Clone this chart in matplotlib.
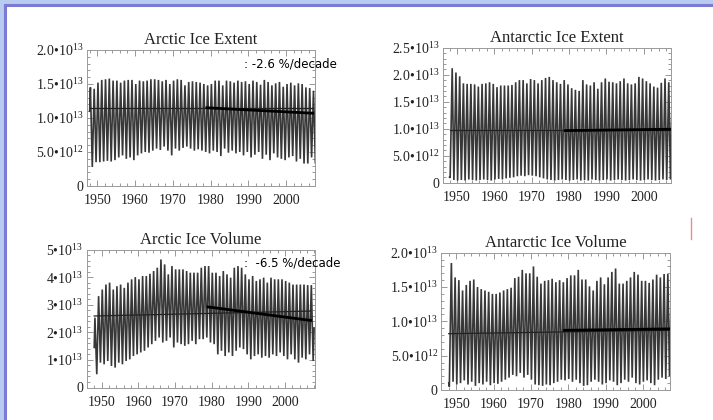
import matplotlib.pyplot as plt
import numpy as np
from matplotlib.patches import Rectangle
from matplotlib.lines import Line2D
from matplotlib.ticker import FixedLocator, MultipleLocator, FuncFormatter

plt.rcParams['mathtext.fontset'] = 'custom'
plt.rcParams['mathtext.rm'] = 'Liberation Serif'
plt.rcParams['mathtext.it'] = 'Liberation Serif'

years = list(range(1948, 2008))

# annual maxima / minima, units of 1e13
arc_ext_max = [1.45, 1.43, 1.52, 1.56, 1.57, 1.58, 1.55, 1.55, 1.52, 1.55,
               1.56, 1.56, 1.50, 1.55, 1.54, 1.55, 1.57, 1.57, 1.56, 1.54,
               1.56, 1.50, 1.55, 1.57, 1.56, 1.48, 1.53, 1.54, 1.53, 1.52,
               1.50, 1.48, 1.50, 1.55, 1.55, 1.48, 1.55, 1.54, 1.52, 1.55,
               1.53, 1.54, 1.50, 1.55, 1.53, 1.49, 1.56, 1.53, 1.48, 1.51,
               1.53, 1.46, 1.50, 1.52, 1.48, 1.51, 1.50, 1.45, 1.44, 1.40]
arc_ext_min = [0.28, 0.35, 0.35, 0.36, 0.37, 0.36, 0.38, 0.42, 0.45, 0.40,
               0.42, 0.38, 0.45, 0.48, 0.50, 0.49, 0.52, 0.55, 0.53, 0.58,
               0.52, 0.45, 0.55, 0.52, 0.56, 0.58, 0.55, 0.52, 0.54, 0.52,
               0.50, 0.48, 0.52, 0.50, 0.44, 0.55, 0.49, 0.52, 0.48, 0.50,
               0.45, 0.50, 0.42, 0.46, 0.50, 0.40, 0.46, 0.38, 0.48, 0.42,
               0.40, 0.38, 0.42, 0.44, 0.36, 0.40, 0.33, 0.33, 0.42, 0.33]

ant_ext_max = [2.12, 2.04, 1.97, 1.84, 1.83, 1.83, 1.82, 1.78, 1.83, 1.84,
               1.86, 1.83, 1.77, 1.80, 1.80, 1.80, 1.81, 1.86, 1.90, 1.90,
               1.84, 1.92, 1.90, 1.84, 1.90, 1.94, 1.96, 1.90, 1.86, 1.83,
               1.90, 1.82, 1.75, 1.72, 1.70, 1.90, 1.82, 1.80, 1.86, 1.74,
               1.86, 1.93, 1.87, 1.86, 1.84, 1.88, 1.93, 1.84, 1.82, 1.84,
               1.96, 1.93, 1.88, 1.84, 1.78, 1.76, 1.85, 1.93, 1.86, 1.92]
ant_ext_min = [0.10, 0.05, 0.04, 0.05, 0.04, 0.06, 0.05, 0.04, 0.05, 0.06,
               0.05, 0.04, 0.06, 0.07, 0.06, 0.08, 0.09, 0.10, 0.12, 0.13,
               0.12, 0.14, 0.13, 0.12, 0.10, 0.08, 0.06, 0.05, 0.04, 0.05,
               0.06, 0.05, 0.04, 0.05, 0.06, 0.04, 0.05, 0.04, 0.06, 0.05,
               0.04, 0.05, 0.06, 0.04, 0.05, 0.06, 0.05, 0.04, 0.05, 0.06,
               0.05, 0.04, 0.05, 0.06, 0.05, 0.04, 0.05, 0.06, 0.05, 0.06]

arc_vol_max = [2.53, 3.31, 3.55, 3.73, 3.80, 3.55, 3.67, 3.73, 3.61, 3.80,
               3.92, 4.00, 3.92, 4.04, 4.04, 4.12, 4.22, 4.34, 4.64, 4.46,
               4.10, 4.40, 4.28, 4.28, 4.28, 4.22, 4.16, 4.16, 4.16, 4.34,
               4.40, 4.40, 4.16, 4.16, 4.04, 4.22, 4.10, 3.98, 4.34, 4.40,
               4.34, 4.10, 3.92, 4.04, 3.86, 3.92, 3.98, 3.80, 3.98, 3.92,
               3.92, 3.92, 3.86, 3.80, 3.73, 3.73, 3.73, 3.73, 3.71, 3.71]
arc_vol_min = [0.48, 0.90, 0.84, 0.96, 0.78, 0.72, 0.90, 0.84, 0.96, 1.02,
               1.14, 1.20, 1.27, 1.33, 1.45, 1.57, 1.69, 1.81, 1.63, 1.69,
               1.81, 1.45, 1.63, 1.57, 1.51, 1.57, 1.69, 1.57, 1.75, 1.75,
               1.81, 1.63, 1.57, 1.20, 1.33, 1.14, 1.27, 1.14, 1.33, 1.45,
               1.39, 1.20, 1.02, 1.14, 1.20, 1.08, 1.14, 1.08, 1.20, 1.14,
               1.27, 1.14, 1.02, 1.20, 1.02, 0.90, 1.08, 1.02, 1.20, 0.96]

ant_vol_max = [1.85, 1.64, 1.60, 1.45, 1.53, 1.59, 1.61, 1.50, 1.47, 1.45,
               1.43, 1.40, 1.40, 1.42, 1.45, 1.47, 1.49, 1.63, 1.65, 1.75,
               1.70, 1.70, 1.80, 1.65, 1.55, 1.59, 1.60, 1.62, 1.57, 1.60,
               1.57, 1.63, 1.67, 1.67, 1.75, 1.61, 1.61, 1.51, 1.45, 1.59,
               1.64, 1.54, 1.64, 1.72, 1.77, 1.55, 1.55, 1.59, 1.64, 1.72,
               1.68, 1.59, 1.59, 1.56, 1.61, 1.68, 1.64, 1.69, 1.69, 1.69]
ant_vol_min = [0.05, 0.12, 0.08, 0.10, 0.14, 0.08, 0.12, 0.06, 0.10, 0.08,
               0.12, 0.07, 0.10, 0.09, 0.12, 0.15, 0.18, 0.22, 0.20, 0.25,
               0.18, 0.22, 0.15, 0.08, 0.07, 0.06, 0.08, 0.07, 0.10, 0.12,
               0.15, 0.14, 0.16, 0.12, 0.15, 0.10, 0.06, 0.07, 0.12, 0.15,
               0.12, 0.08, 0.10, 0.14, 0.12, 0.07, 0.10, 0.15, 0.12, 0.18,
               0.10, 0.08, 0.12, 0.14, 0.10, 0.07, 0.15, 0.18, 0.16, 0.20]

# first and last (partial-year) values of each record
arc_ext_ends = [1.10, 1.18]
ant_ext_ends = [0.10, 0.47]
arc_vol_ends = [1.45, 2.15]
ant_vol_ends = [0.10, 0.53]

# thin mean line (1948-2007) and thick trend line (1979-2007)
arc_ext_mean = [1.14, 1.14]
arc_ext_trend = [1.15, 1.07]
ant_ext_mean = [0.98, 0.98]
ant_ext_trend = [0.965, 0.99]
arc_vol_mean = [2.59, 2.77]
arc_vol_trend = [2.92, 2.43]
ant_vol_mean = [0.82, 0.87]
ant_vol_trend = [0.87, 0.89]

titles = ['Arctic Ice Extent', 'Antarctic Ice Extent',
          'Arctic Ice Volume', 'Antarctic Ice Volume']
notes = [': -2.6 %/decade', None, ':  -6.5 %/decade', None]


def cycle(hi, lo, ends, north):
    # alternate the yearly high and low points along the time axis
    t = [years[0]]
    v = [ends[0]]
    for i, y in enumerate(years):
        if north:
            t += [y + 0.2, y + 0.7]
            v += [hi[i], lo[i]]
        else:
            t += [y + 0.15, y + 0.7]
            v += [lo[i], hi[i]]
    t.append(years[-1] + 0.95)
    v.append(ends[1])
    return np.array(t), np.array(v) * 1e13


def make_fmt(mfmt):
    def f(val, pos):
        if val < -1e6:
            return ''
        if abs(val) < 1e6:
            return '0'
        e = int(np.floor(np.log10(val) + 1e-9))
        return (mfmt % (val / 10 ** e)) + '\u202210$^{%d}$' % e
    return FuncFormatter(f)


W, H = 713, 420
fig = plt.figure(figsize=(W / 100, H / 100), dpi=100)
fig.patches.append(Rectangle((0, 0), 1, 1, transform=fig.transFigure,
                             facecolor='#b9cbee', edgecolor='none', zorder=-3))
fig.patches.append(Rectangle((5 / W, -0.05), 1.1, 1 - 5.5 / H + 0.05,
                             transform=fig.transFigure, facecolor='white',
                             edgecolor='#7a7bd2', linewidth=2.2, zorder=-2))
fig.lines.append(Line2D([691 / W, 691 / W], [1 - 218 / H, 1 - 239 / H],
                        transform=fig.transFigure, color='#f08a8a', lw=1))

# panel boxes in pixels: left, right, top, bottom
boxes = [(87, 315, 50, 186), (442.5, 671, 47.7, 182.7),
         (86.5, 315, 249.5, 387.5), (441.3, 669.7, 252.7, 390)]
xlims = [(1947.3, 2007.6), (1946.1, 2007.3), (1945.9, 2008.2), (1946.0, 2007.2)]
ylims = [2.0e13, 2.5e13, 5e13, 2.0e13]
ysteps = [0.5e13, 0.5e13, 1e13, 0.5e13]
mfmts = ['%.1f', '%.1f', '%d', '%.1f']
series = [(arc_ext_max, arc_ext_min, arc_ext_ends, True, arc_ext_mean, arc_ext_trend),
          (ant_ext_max, ant_ext_min, ant_ext_ends, False, ant_ext_mean, ant_ext_trend),
          (arc_vol_max, arc_vol_min, arc_vol_ends, True, arc_vol_mean, arc_vol_trend),
          (ant_vol_max, ant_vol_min, ant_vol_ends, False, ant_vol_mean, ant_vol_trend)]

for k in range(4):
    l, r, t, b = boxes[k]
    ax = fig.add_axes([l / W, 1 - b / H, (r - l) / W, (b - t) / H])
    hi, lo, ends, north, mean, trend = series[k]
    tt, vv = cycle(hi, lo, ends, north)
    ax.plot(tt, vv, color='#383838', lw=1.2, solid_joinstyle='miter')
    ax.plot([years[0], years[-1]], np.array(mean) * 1e13, color='#222222',
            lw=0.9, zorder=3)
    ax.plot([1979, years[-1]], np.array(trend) * 1e13, color='black', lw=2.0,
            zorder=4)

    ax.set_xlim(*xlims[k])
    ax.set_ylim(0, ylims[k])
    ax.xaxis.set_major_locator(FixedLocator([1950, 1960, 1970, 1980, 1990, 2000]))
    ax.xaxis.set_minor_locator(MultipleLocator(2))
    ax.yaxis.set_major_locator(MultipleLocator(ysteps[k]))
    ax.yaxis.set_minor_locator(MultipleLocator(ysteps[k] / 5))
    ax.yaxis.set_major_formatter(make_fmt(mfmts[k]))
    ax.tick_params(which='both', direction='in', top=True, right=True,
                   color='#888888', width=0.6, labelsize=10)
    ax.tick_params(axis='x', pad=6)
    ax.tick_params(axis='y', pad=2.5)
    ax.tick_params(which='major', length=4)
    ax.tick_params(which='minor', length=2)
    for lab in ax.get_xticklabels() + ax.get_yticklabels():
        lab.set_family('Liberation Serif')
        lab.set_color('#222222')
    for s in ax.spines.values():
        s.set_color('#9a9a9a')
        s.set_linewidth(0.7)
    ax.set_title(titles[k], family='Liberation Serif', fontsize=12,
                 color='#222222', pad=4)
    if notes[k]:
        ax.text(0.69, 0.9, notes[k], transform=ax.transAxes, fontsize=8.5,
                family='DejaVu Sans', va='center', ha='left', clip_on=False)

fig.savefig('out.png', dpi=100)
